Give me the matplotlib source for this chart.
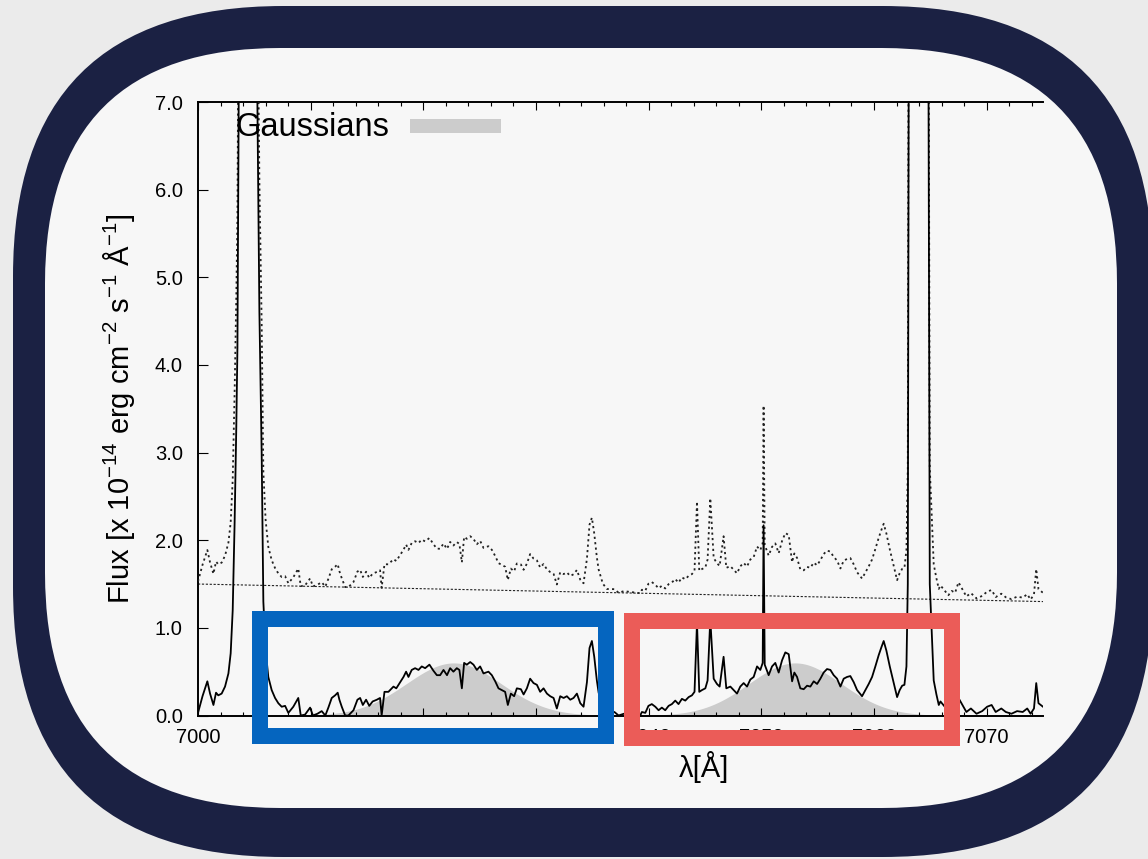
import numpy as np
import matplotlib
matplotlib.use("Agg")
import matplotlib.pyplot as plt
from matplotlib.patches import FancyBboxPatch, Rectangle
from matplotlib.ticker import MultipleLocator, FormatStrFormatter
import matplotlib.transforms as mtransforms

plt.rcParams['font.family'] = ['Liberation Sans', 'DejaVu Sans']
plt.rcParams['mathtext.default'] = 'regular'

#________________________________________________________________
# residual spectrum (solid line), flux in 1e-14 erg/cm2/s/A
wavelength = [
    7000.0, 7000.4, 7000.83, 7001.07, 7001.37, 7001.6, 7001.8, 7002.1, 7002.4, 7002.7,
    7002.9, 7003.08, 7003.25, 7003.4, 7003.5, 7003.62, 7003.9, 7004.3, 7004.8, 7005.1,
    7005.27, 7005.45, 7005.65, 7005.8, 7006.0, 7006.24, 7006.54, 7006.84, 7007.13, 7007.43,
    7007.73, 7008.02, 7008.46, 7008.9, 7009.12, 7009.5, 7009.95, 7010.2, 7010.6, 7010.98,
    7011.3, 7011.57, 7011.87, 7012.17, 7012.4, 7012.55, 7012.76, 7013.06, 7013.35, 7013.8,
    7014.15, 7014.39, 7014.63, 7014.92, 7015.2, 7015.5, 7015.87, 7016.16, 7016.3, 7016.55,
    7016.9, 7017.35, 7017.6, 7018.0, 7018.24, 7018.47, 7018.68, 7018.97, 7019.27, 7019.57,
    7019.86, 7020.16, 7020.54, 7020.9, 7021.2, 7021.49, 7021.79, 7022.1, 7022.38, 7022.67,
    7022.97, 7023.2, 7023.42, 7023.62, 7023.86, 7024.16, 7024.45, 7024.75, 7025.04, 7025.34,
    7025.78, 7026.08, 7026.38, 7026.67, 7026.97, 7027.26, 7027.5, 7027.77, 7028.06, 7028.3,
    7028.66, 7028.9, 7029.19, 7029.48, 7029.78, 7030.08, 7030.37, 7030.67, 7030.97, 7031.26,
    7031.56, 7031.85, 7032.15, 7032.45, 7032.74, 7033.04, 7033.33, 7033.63, 7033.93, 7034.22,
    7034.52, 7034.75, 7034.96, 7035.17, 7035.4, 7035.56, 7035.93, 7036.3, 7036.96, 7037.33,
    7037.8, 7038.5, 7039.25, 7039.4, 7039.7, 7039.98, 7040.28, 7040.59, 7040.88, 7041.17,
    7041.47, 7041.77, 7042.06, 7042.36, 7042.65, 7042.95, 7043.25, 7043.55, 7043.84, 7044.07,
    7044.29, 7044.49, 7044.73, 7045.03, 7045.23, 7045.47, 7045.77, 7046.06, 7046.3, 7046.65,
    7046.89, 7047.25, 7047.54, 7047.84, 7048.13, 7048.43, 7048.73, 7049.02, 7049.32, 7049.62,
    7049.91, 7050.12, 7050.2, 7050.3, 7050.65, 7050.95, 7051.24, 7051.54, 7051.84, 7052.13,
    7052.43, 7052.73, 7052.93, 7053.17, 7053.46, 7053.76, 7054.06, 7054.35, 7054.65, 7054.95,
    7055.24, 7055.53, 7055.83, 7056.13, 7056.42, 7056.72, 7057.02, 7057.31, 7057.61, 7057.9,
    7058.2, 7058.5, 7058.94, 7059.24, 7059.53, 7059.83, 7060.12, 7060.42, 7060.66, 7060.86,
    7061.1, 7061.4, 7061.7, 7062.05, 7062.28, 7062.5, 7062.7, 7062.88, 7063.0, 7063.08,
    7063.4, 7064.0, 7064.6, 7064.85, 7064.95, 7065.3, 7065.54, 7065.75, 7065.9, 7066.15,
    7066.6, 7066.9, 7067.2, 7067.5, 7067.85, 7068.2, 7068.6, 7069.1, 7069.6, 7070.04,
    7070.44, 7070.8, 7071.3, 7071.7, 7072.2, 7072.7, 7073.2, 7073.6, 7073.9, 7074.2,
    7074.4, 7074.6, 7074.8, 7075.0,
]
residual_flux = [
    0.03, 0.22, 0.39, 0.25, 0.12, 0.26, 0.23, 0.25, 0.33, 0.48,
    0.71, 1.2, 2.2, 3.3, 4.2, 7.2, 20, 30, 20, 10,
    7.0, 4.6, 3.0, 1.3, 0.75, 0.44, 0.29, 0.20, 0.14, 0.10,
    0.11, 0.03, 0.10, 0.20, 0.0, 0.01, 0.09, 0.0, 0.02, 0.05,
    0.0, 0.09, 0.20, 0.23, 0.26, 0.18, 0.10, 0.0, 0.0, 0.06,
    0.18, 0.20, 0.12, 0.18, 0.11, 0.16, 0.18, 0.20, 0.0, 0.27,
    0.27, 0.33, 0.31, 0.39, 0.44, 0.50, 0.44, 0.52, 0.54, 0.52,
    0.56, 0.54, 0.58, 0.51, 0.46, 0.46, 0.52, 0.46, 0.54, 0.50,
    0.54, 0.52, 0.31, 0.60, 0.58, 0.61, 0.58, 0.52, 0.56, 0.48,
    0.50, 0.46, 0.39, 0.31, 0.29, 0.27, 0.12, 0.25, 0.22, 0.31,
    0.30, 0.24, 0.31, 0.42, 0.37, 0.35, 0.27, 0.31, 0.25, 0.22,
    0.20, 0.08, 0.22, 0.20, 0.22, 0.18, 0.20, 0.25, 0.14, 0.10,
    0.38, 0.77, 0.85, 0.67, 0.40, 0.26, 0.10, 0.04, 0.04, 0.0,
    0.02, 0.01, 0.0, 0.04, 0.03, 0.11, 0.13, 0.10, 0.06, 0.09,
    0.06, 0.11, 0.13, 0.17, 0.13, 0.19, 0.17, 0.21, 0.23, 0.27,
    1.06, 0.27, 0.29, 0.31, 0.40, 1.10, 0.42, 0.36, 0.33, 0.67,
    0.31, 0.33, 0.29, 0.25, 0.33, 0.37, 0.33, 0.41, 0.44, 0.56,
    0.52, 0.60, 2.17, 0.58, 0.46, 0.56, 0.60, 0.49, 0.63, 0.72,
    0.70, 0.39, 0.49, 0.44, 0.31, 0.30, 0.34, 0.33, 0.39, 0.36,
    0.42, 0.49, 0.53, 0.52, 0.46, 0.42, 0.33, 0.42, 0.44, 0.45,
    0.38, 0.29, 0.22, 0.29, 0.36, 0.44, 0.56, 0.69, 0.78, 0.85,
    0.74, 0.56, 0.40, 0.21, 0.29, 0.34, 0.35, 0.56, 1.5, 7.5,
    25, 35, 20, 6.5, 1.5, 0.40, 0.24, 0.12, 0.16, 0.12,
    0.05, 0.10, 0.08, 0.20, 0.12, 0.04, 0.08, 0.02, 0.05, 0.10,
    0.12, 0.04, 0.08, 0.04, 0.02, 0.05, 0.04, 0.08, 0.02, 0.08,
    0.37, 0.14, 0.12, 0.10,
]

# linear continuum (thin dotted line), end points
continuum_wave = [7000.0, 7075.0]
continuum_flux = [1.50, 1.30]

# fitted gaussian components (grey fill)
gauss_center = [7022.7, 7053.0]
gauss_amp = [0.60, 0.60]
gauss_sigma = [4.2, 4.1]

x_ticks = [7000, 7010, 7020, 7030, 7040, 7050, 7060, 7070]
y_ticks = [0.0, 1.0, 2.0, 3.0, 4.0, 5.0, 6.0, 7.0]

W, H = 1148, 859

#________________________________________________________________

wavelength = np.array(wavelength)
residual_flux = np.array(residual_flux)
# observed spectrum = residual + continuum
total_flux = residual_flux + np.interp(wavelength, continuum_wave, continuum_flux)

fig = plt.figure(figsize=(W / 100, H / 100), dpi=100)
fig.patch.set_facecolor('#ebebeb')

# rounded frame, drawn in pixels
pix = mtransforms.IdentityTransform()
outer = FancyBboxPatch((13, H - 857), 1140, 851,
                       boxstyle="round,pad=0,rounding_size=270",
                       facecolor='#1b2143', edgecolor='none', transform=pix, zorder=-10)
inner = FancyBboxPatch((45, H - 808), 1072, 760,
                       boxstyle="round,pad=0,rounding_size=235",
                       facecolor='#f7f7f7', edgecolor='none', transform=pix, zorder=-9)
fig.add_artist(outer)
fig.add_artist(inner)

ax_left, ax_right, ax_top, ax_bottom = 198, 1043, 102, 715.5
ax = fig.add_axes([ax_left / W, 1 - ax_bottom / H, (ax_right - ax_left) / W, (ax_bottom - ax_top) / H])
ax.set_facecolor('none')

grid = np.linspace(7000, 7075, 600)
for c, a, s in zip(gauss_center, gauss_amp, gauss_sigma):
    ax.fill_between(grid, a * np.exp(-0.5 * ((grid - c) / s) ** 2), color='#cccccc', lw=0, zorder=1)

ax.plot(continuum_wave, continuum_flux, color='#222222', lw=0.8, linestyle=(0, (2, 1.5)), zorder=2)
ax.plot(wavelength, total_flux, color='#222222', lw=1.3, linestyle=(0, (1.2, 1.8)), zorder=3)
ax.plot(wavelength, residual_flux, color='black', lw=1.3, zorder=4)

ax.set_xlim(7000, 7075)
ax.set_ylim(0, 7)
ax.set_xticks(x_ticks)
ax.xaxis.set_minor_locator(MultipleLocator(2))
ax.set_yticks(y_ticks)
ax.yaxis.set_major_formatter(FormatStrFormatter('%.1f'))
ax.tick_params(axis='x', which='both', direction='in', top=True, bottom=True, labelsize=14.5, pad=8.7)
ax.tick_params(axis='x', which='major', length=6, width=0.8)
ax.tick_params(axis='x', which='minor', length=3, width=0.8)
ax.tick_params(axis='y', which='major', direction='in', left=True, right=False, length=7,
               width=0.8, labelsize=14.5, pad=11)
ax.spines['right'].set_visible(False)
for s in ['left', 'top', 'bottom']:
    ax.spines[s].set_linewidth(1.4)

ax.set_ylabel(r'Flux [x 10$^{-14}$ erg cm$^{-2}$ s$^{-1}$ Å$^{-1}$]', fontsize=21)
ax.yaxis.set_label_coords((137 - ax_left) / (ax_right - ax_left), 0.5)
ax.set_xlabel('λ[Å]', fontsize=21, va='top')
ax.xaxis.set_label_coords((704 - ax_left) / (ax_right - ax_left), -(751 - ax_bottom) / (ax_bottom - ax_top))

# legend: text then grey sample
fig.text(235 / W, 1 - 128 / H, 'Gaussians', fontsize=23.5, ha='left', va='center')
fig.add_artist(Rectangle((410, H - 133), 91, 14, facecolor='#cccccc', edgecolor='none', transform=pix))

# highlight boxes
fig.add_artist(Rectangle((260.3, H - 735.8), 345.9, 117.1, fill=False, edgecolor='#0565bf',
                         lw=16 * 0.72, joinstyle='miter', transform=pix, zorder=20))
fig.add_artist(Rectangle((632, H - 738.4), 320.2, 117.1, fill=False, edgecolor='#eb5c58',
                         lw=16 * 0.72, joinstyle='miter', transform=pix, zorder=20))

fig.savefig('out.png', dpi=100, facecolor=fig.get_facecolor())
